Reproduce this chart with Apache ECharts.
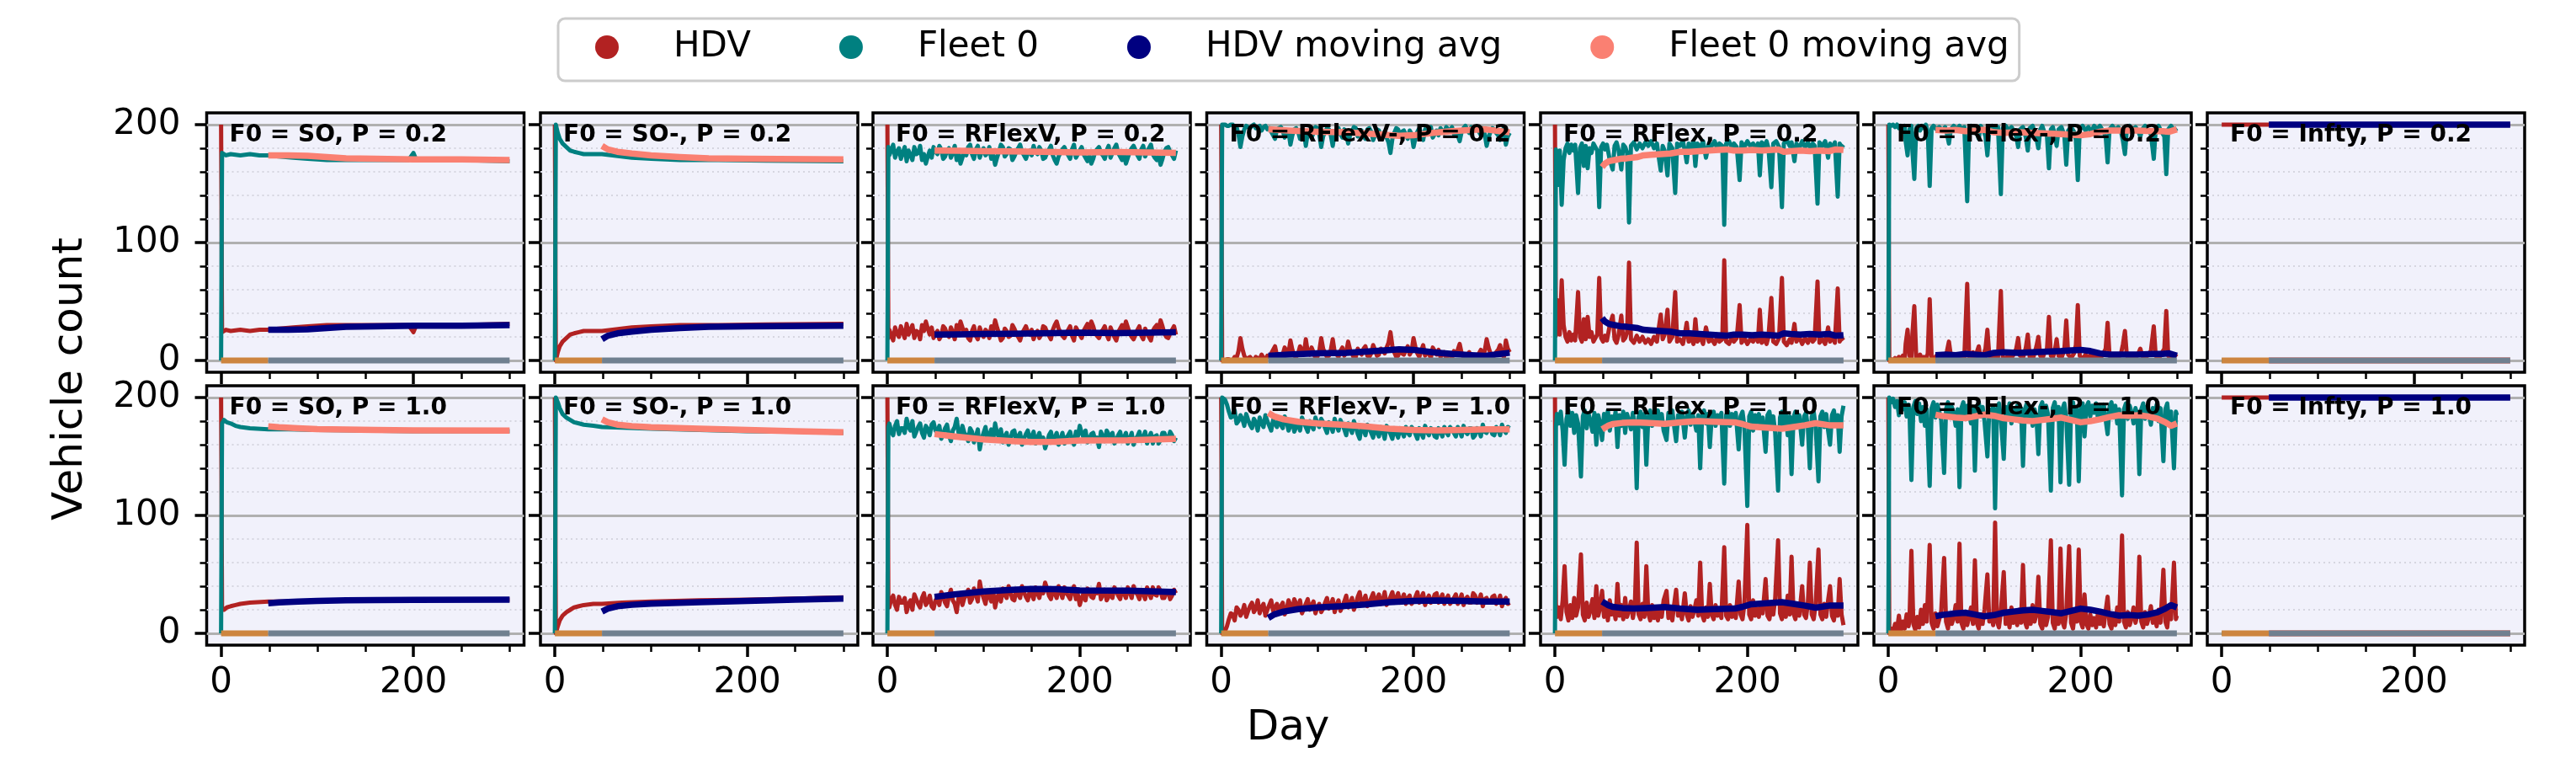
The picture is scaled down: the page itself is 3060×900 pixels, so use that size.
<!DOCTYPE html>
<html>
<head>
<meta charset="utf-8">
<script src="https://cdn.jsdelivr.net/npm/echarts@6/dist/echarts.min.js"></script>
<style>
  html, body { margin: 0; padding: 0; background: #fff; }
  #chart { width: 3060px; height: 900px; }
</style>
</head>
<body>
<div id="chart"></div>
<script>
// ---- data ----
const legendNames = ['HDV', 'Fleet 0', 'HDV moving avg', 'Fleet 0 moving avg'];
const panelTitles = [
  ['F0 = SO, P = 0.2', 'F0 = SO-, P = 0.2', 'F0 = RFlexV, P = 0.2', 'F0 = RFlexV-, P = 0.2', 'F0 = RFlex, P = 0.2', 'F0 = RFlex-, P = 0.2', 'F0 = Infty, P = 0.2'],
  ['F0 = SO, P = 1.0', 'F0 = SO-, P = 1.0', 'F0 = RFlexV, P = 1.0', 'F0 = RFlexV-, P = 1.0', 'F0 = RFlex, P = 1.0', 'F0 = RFlex-, P = 1.0', 'F0 = Infty, P = 1.0']
];
const xTicksMajor = [0, 200];
const xTicksMinor = [50, 100, 150, 250, 300];
const yTicksMajor = [0, 100, 200];
const yTicksMinor = [20, 40, 60, 80, 120, 140, 160, 180];

// phase bars along zero
const learnPhase = [[0, 0], [49, 0]];
const evalPhase = [[49, 0], [300, 0]];

// SO, P = 0.2
const so02Fleet = [[0,0],[1,176],[5,174],[10,175],[20,174],[30,175],[40,174],[49,174],[60,173],[75,172],[90,171],[110,170],[150,170],[195,170],[200,176],[203,170],[250,170],[300,169]];
const so02Hdv = [[0,200],[1,24],[5,26],[10,25],[20,26],[30,25],[40,26],[49,26],[60,27],[75,28],[90,29],[110,30],[150,30],[195,30],[200,24],[203,30],[250,30],[300,31]];
const so02FleetAvg = [[49,174],[70,174],[90,173.5],[110,172.5],[130,171.5],[160,171],[200,170.5],[250,170.5],[300,170]];
const so02HdvAvg = [[49,26],[70,26],[90,26.5],[110,27.5],[130,28.5],[160,29],[200,29.5],[250,29.5],[300,30]];

// SO-, P = 0.2
const soM02Fleet = [[0,0],[1,200],[3,193],[5,188],[8,184],[12,181],[16,178],[20,177],[25,176],[30,175],[40,175],[49,175],[60,174],[80,172],[100,171],[130,170],[170,170],[220,169.5],[300,169]];
const soM02Hdv = [[0,200],[1,0],[3,7],[5,12],[8,16],[12,19],[16,22],[20,23],[25,24],[30,25],[40,25],[49,25],[60,26],[80,28],[100,29],[130,30],[170,30],[220,30.5],[300,31]];
const soM02FleetAvg = [[49,182],[55,179],[65,177],[80,175.5],[100,174],[130,172.5],[160,171.5],[200,171],[300,170.5]];
const soM02HdvAvg = [[49,18],[55,21],[65,23],[80,24.5],[100,26],[130,27.5],[160,28.5],[200,29],[300,29.5]];

// SO, P = 1.0
const so10Fleet = [[0,0],[1,178],[3,181],[6,179],[10,178],[15,176],[20,175],[30,174],[49,173],[70,173],[100,172.5],[150,172],[200,171.5],[300,171.5]];
const so10Hdv = [[0,200],[1,20],[3,20],[6,22],[10,23],[15,24],[20,25],[30,26],[49,27],[70,27],[100,27.5],[150,28],[200,28.5],[300,28.5]];
const so10FleetAvg = [[49,175.5],[60,174.8],[80,174],[100,173.3],[130,172.8],[160,172.5],[200,172.2],[300,172]];
const so10HdvAvg = [[49,25.5],[60,26.2],[80,27],[100,27.5],[130,28],[160,28.2],[200,28.4],[300,28.5]];

// SO-, P = 1.0
const soM10Fleet = [[0,0],[1,200],[3,196],[5,191],[8,186],[12,183],[16,181],[20,179],[25,178],[30,177],[40,176],[49,175],[70,174.5],[100,173.5],[150,172.5],[200,171.5],[250,171],[300,170]];
const soM10Hdv = [[0,200],[1,0],[3,6],[5,11],[8,15],[12,18],[16,20],[20,22],[25,23],[30,24],[40,25],[49,25],[70,26],[100,27],[150,28],[200,28.5],[250,29.5],[300,30.5]];
const soM10FleetAvg = [[49,181.5],[55,179],[65,177],[80,175.8],[100,174.8],[150,173.5],[200,172.5],[250,171.5],[300,170.5]];
const soM10HdvAvg = [[49,18.5],[55,21],[65,23],[80,24.2],[100,25.2],[150,26.5],[200,27.5],[250,28.5],[300,29.5]];

// day grid for the noisy RFlexV panels
const noiseDays = [0,1,2,4,6,8,10,12,14,16,18,20,22,24,26,28,30,32,34,36,38,40,42,44,46,48,50,52,54,56,58,60,62,64,66,68,70,72,74,76,78,80,82,84,86,88,90,92,94,96,98,100,102,104,106,108,110,112,114,116,118,120,122,124,126,128,130,132,134,136,138,140,142,144,146,148,150,152,154,156,158,160,162,164,166,168,170,172,174,176,178,180,182,184,186,188,190,192,194,196,198,200,202,204,206,208,210,212,214,216,218,220,222,224,226,228,230,232,234,236,238,240,242,244,246,248,250,252,254,256,258,260,262,264,266,268,270,272,274,276,278,280,282,284,286,288,290,292,294,296,298,300];

// RFlexV, P = 0.2
const rflexV02Fleet = [0,181,174,178,183,172,177,180,171,176,181,169,178,174,170,181,175,176,182,170,175,167,173,178,172,181,177,175,182,179,171,173,178,180,172,176,182,170,176,167,172,178,174,181,183,175,171,179,182,172,177,180,174,176,181,171,175,166,172,177,183,181,173,175,180,179,170,173,177,180,183,177,174,171,176,178,174,182,177,175,181,178,171,172,176,179,182,174,170,167,173,176,179,181,177,174,171,179,183,172,175,178,181,175,172,169,174,167,171,177,179,181,176,174,171,178,182,172,176,180,183,176,173,170,175,167,172,177,180,182,178,174,171,179,182,173,177,180,183,175,172,170,174,166,171,177,180,181,177,174,171,178];
const rflexV02Hdv = [200,19,26,22,17,28,23,20,29,24,19,31,22,26,30,19,25,24,18,30,25,33,27,22,28,19,23,25,18,21,29,27,22,20,28,24,18,30,24,33,28,22,26,19,17,25,29,21,18,28,23,20,26,24,19,29,25,34,28,23,17,19,27,25,20,21,30,27,23,20,17,23,26,29,24,22,26,18,23,25,19,22,29,28,24,21,18,26,30,33,27,24,21,19,23,26,29,21,17,28,25,22,19,25,28,31,26,33,29,23,21,19,24,26,29,22,18,28,24,20,17,24,27,30,25,33,28,23,20,18,22,26,29,21,18,27,23,20,17,25,28,30,26,34,29,23,20,19,23,26,29,22];
const rflexV02FleetAvg = [[49,178],[75,177.8],[100,177.5],[130,177.3],[160,177],[200,176.5],[240,176.8],[270,176.5],[300,176]];
const rflexV02HdvAvg = [[49,22],[75,22.2],[100,22.5],[130,22.7],[160,23],[200,23.5],[240,23.2],[270,23.5],[300,24]];

// RFlexV-, P = 0.2
const rflexVM02Fleet = [0,200,200,200,199,199,200,200,197,198,192,181,190,196,199,198,197,199,200,197,198,199,195,198,199,196,197,194,191,188,196,197,198,195,189,192,194,183,191,196,197,194,188,191,195,182,193,195,189,193,198,197,192,181,190,194,197,196,191,182,193,195,197,192,189,196,193,184,191,194,198,197,190,193,195,190,188,196,197,194,187,191,196,195,190,192,194,189,185,176,188,193,197,196,190,194,195,191,188,195,192,181,189,194,197,192,187,196,193,194,198,189,192,195,191,197,195,193,198,196,194,198,192,195,191,186,194,197,199,195,193,198,196,196,198,194,191,197,192,182,189,194,197,196,193,191,187,195,197,183,190,193];
const rflexVM02Hdv = [200,0,0,0,1,1,0,0,3,2,8,19,10,4,1,2,3,1,0,3,2,1,5,2,1,4,3,6,9,12,4,3,2,5,11,8,6,17,9,4,3,6,12,9,5,18,7,5,11,7,2,3,8,19,10,6,3,4,9,18,7,5,3,8,11,4,7,16,9,6,2,3,10,7,5,10,12,4,3,6,13,9,4,5,10,8,6,11,15,24,12,7,3,4,10,6,5,9,12,5,8,19,11,6,3,8,13,4,7,6,2,11,8,5,9,3,5,7,2,4,6,2,8,5,9,14,6,3,1,5,7,2,4,4,2,6,9,3,8,18,11,6,3,4,7,9,13,5,3,17,10,7];
const rflexVM02FleetAvg = [[49,196],[70,195],[100,194],[130,193.5],[150,192.5],[170,191.5],[185,190.5],[200,191],[220,193],[240,194.5],[260,195.5],[275,196],[290,194.5],[300,193.5]];
const rflexVM02HdvAvg = [[49,4],[70,5],[100,6],[130,6.5],[150,7.5],[170,8.5],[185,9.5],[200,9],[220,7],[240,5.5],[260,4.5],[275,4],[290,5.5],[300,6.5]];

// RFlexV, P = 1.0
const rflexV10Fleet = [0,175,178,171,168,176,180,169,174,174,170,182,175,172,180,167,171,175,178,170,166,176,173,168,177,179,172,170,176,165,169,174,177,168,163,172,175,182,170,166,176,170,168,163,174,171,162,167,173,156,165,170,175,165,168,173,164,178,170,166,173,162,167,170,160,165,171,172,163,167,170,160,165,169,172,164,167,171,161,166,170,162,166,157,162,168,171,163,166,170,160,165,170,161,166,168,171,164,160,171,167,176,170,166,172,162,165,169,170,164,166,158,171,167,163,172,169,165,170,161,164,168,171,163,166,170,161,165,170,160,165,167,171,163,166,171,161,166,170,161,167,168,161,164,170,170,165,165,171,168,163,166];
const rflexV10Hdv = [200,25,22,29,32,24,20,31,26,26,30,18,25,28,20,33,29,25,22,30,34,24,27,32,23,21,28,30,24,35,31,26,23,32,37,28,25,18,30,34,24,30,32,37,26,29,38,33,27,44,35,30,25,35,32,27,36,22,30,34,27,38,33,30,40,35,29,28,37,33,30,40,35,31,28,36,33,29,39,34,30,38,34,43,38,32,29,37,34,30,40,35,30,39,34,32,29,36,40,29,33,24,30,34,28,38,35,31,30,36,34,42,29,33,37,28,31,35,30,39,36,32,29,37,34,30,39,35,30,40,35,33,29,37,34,29,39,34,30,39,33,32,39,36,30,30,35,35,29,32,37,34];
const rflexV10FleetAvg = [[49,169],[70,167],[100,164.5],[130,163],[150,162.3],[175,162.5],[200,163.5],[250,163.7],[280,164.5],[300,165]];
const rflexV10HdvAvg = [[49,31],[70,33],[100,35.5],[130,37],[150,37.7],[175,37.5],[200,36.5],[250,36.3],[280,35.5],[300,35]];

// RFlexV-, P = 1.0
const rflexVM10Fleet = [0,200,200,198,194,188,183,184,189,178,180,185,182,176,186,181,177,174,182,179,172,183,178,175,185,180,176,172,181,178,175,183,177,174,184,180,172,176,181,171,175,179,172,183,179,175,171,180,176,173,183,178,175,182,179,174,170,179,176,171,182,176,172,181,177,173,168,178,175,170,180,175,169,165,176,173,168,177,174,170,166,174,171,167,175,172,165,176,173,169,165,174,170,166,174,171,167,175,170,168,175,173,169,165,174,170,166,176,171,168,174,172,167,166,174,171,167,175,171,168,175,173,170,167,175,172,167,176,171,169,174,174,166,168,174,172,167,177,171,170,174,174,169,168,175,173,168,177,172,170,175,174];
const rflexVM10Hdv = [200,0,0,2,6,12,17,16,11,22,20,15,18,24,14,19,23,26,18,21,28,17,22,25,15,20,24,28,19,22,25,17,23,26,16,20,28,24,19,29,25,21,28,17,21,25,29,20,24,27,17,22,25,18,21,26,30,21,24,29,18,24,28,19,23,27,32,22,25,30,20,25,31,35,24,27,32,23,26,30,34,26,29,33,25,28,35,24,27,31,35,26,30,34,26,29,33,25,30,32,25,27,31,35,26,30,34,24,29,32,26,28,33,34,26,29,33,25,29,32,25,27,30,33,25,28,33,24,29,31,26,26,34,32,26,28,33,23,29,30,26,26,31,32,25,27,32,23,28,30,25,26];
const rflexVM10FleetAvg = [[49,187],[55,184],[65,181.5],[80,179.5],[100,178],[125,177],[150,175.5],[175,173.5],[200,172.5],[225,172.2],[250,172.5],[275,173],[300,173]];
const rflexVM10HdvAvg = [[49,13],[55,16],[65,18.5],[80,20.5],[100,22],[125,23],[150,24.5],[175,26.5],[200,27.5],[225,27.8],[250,27.5],[275,27],[300,27]];

// RFlex, P = 0.2
const rflex02Fleet = [[0,0],[1,179],[2,160],[3,149],[4,172],[5,178],[7,132],[9,170],[11,180],[13,184],[15,176],[17,183],[19,178],[21,183],[24,142],[26,180],[28,184],[30,165],[32,182],[34,163],[36,180],[38,176],[40,184],[42,181],[44,178],[46,130],[48,181],[50,184],[52,179],[54,183],[57,170],[60,162],[62,182],[64,185],[66,179],[69,162],[71,183],[73,181],[75,176],[77,117],[79,182],[82,185],[85,179],[88,184],[91,180],[94,185],[97,182],[100,186],[103,180],[106,184],[108,172],[110,161],[112,182],[114,178],[117,157],[119,184],[122,180],[125,142],[127,184],[130,182],[133,186],[135,178],[137,168],[139,184],[142,181],[144,186],[146,165],[148,184],[151,180],[154,186],[157,172],[160,184],[163,182],[166,186],[169,179],[171,184],[174,182],[176,115],[178,184],[181,186],[184,180],[186,184],[189,181],[192,153],[194,185],[197,181],[200,186],[203,182],[206,184],[209,179],[211,184],[213,157],[215,185],[218,182],[220,186],[222,180],[225,147],[227,184],[230,186],[233,181],[236,130],[238,184],[241,187],[244,182],[246,185],[249,169],[251,184],[254,180],[257,186],[260,181],[263,185],[266,179],[268,184],[270,182],[273,133],[275,185],[278,182],[281,186],[284,172],[286,184],[289,180],[291,185],[294,139],[296,184],[298,181],[300,183]];
const rflex02Hdv = [[0,200],[1,21],[2,40],[3,51],[4,28],[5,22],[7,68],[9,30],[11,20],[13,16],[15,24],[17,17],[19,22],[21,17],[24,58],[26,20],[28,16],[30,35],[32,18],[34,37],[36,20],[38,24],[40,16],[42,19],[44,22],[46,70],[48,19],[50,16],[52,21],[54,17],[57,30],[60,38],[62,18],[64,15],[66,21],[69,38],[71,17],[73,19],[75,24],[77,83],[79,18],[82,15],[85,21],[88,16],[91,20],[94,15],[97,18],[100,14],[103,20],[106,16],[108,28],[110,39],[112,18],[114,22],[117,43],[119,16],[122,20],[125,58],[127,16],[130,18],[133,14],[135,22],[137,32],[139,16],[142,19],[144,14],[146,35],[148,16],[151,20],[154,14],[157,28],[160,16],[163,18],[166,14],[169,21],[171,16],[174,18],[176,85],[178,16],[181,14],[184,20],[186,16],[189,19],[192,47],[194,15],[197,19],[200,14],[203,18],[206,16],[209,21],[211,16],[213,43],[215,15],[218,18],[220,14],[222,20],[225,53],[227,16],[230,14],[233,19],[236,70],[238,16],[241,13],[244,18],[246,15],[249,31],[251,16],[254,20],[257,14],[260,19],[263,15],[266,21],[268,16],[270,18],[273,67],[275,15],[278,18],[281,14],[284,28],[286,16],[289,20],[291,15],[294,61],[296,16],[298,19],[300,17]];
const rflex02FleetAvg = [[49,164],[52,167],[56,169],[62,170],[68,171],[75,171.5],[80,172],[86,172.5],[92,174],[100,174.5],[110,175],[120,175.5],[130,177],[140,177],[150,177.5],[160,178],[170,178.5],[178,179],[186,178],[195,178],[205,178.5],[215,178],[225,178.5],[232,179],[238,177],[245,177.5],[255,178],[265,177.5],[275,178],[285,177.5],[292,179],[300,178.5]];
const rflex02HdvAvg = [[49,36],[52,33],[56,31],[62,30],[68,29],[75,28.5],[80,28],[86,27.5],[92,26],[100,25.5],[110,25],[120,24.5],[130,23],[140,23],[150,22.5],[160,22],[170,21.5],[178,21],[186,22],[195,22],[205,21.5],[215,22],[225,21.5],[232,21],[238,23],[245,22.5],[255,22],[265,22.5],[275,22],[285,22.5],[292,21],[300,21.5]];

// RFlex-, P = 0.2
const rflexM02Fleet = [[0,0],[1,200],[3,199],[5,200],[7,198],[9,200],[11,197],[13,199],[15,196],[17,199],[18,186],[20,174],[22,196],[24,199],[25,178],[27,154],[29,197],[31,199],[33,195],[35,199],[37,197],[39,200],[41,194],[43,148],[45,197],[47,199],[50,196],[53,198],[56,195],[59,198],[61,192],[63,184],[65,196],[68,199],[71,196],[74,199],[77,195],[79,198],[82,135],[84,197],[86,199],[88,193],[90,198],[94,188],[96,199],[99,195],[101,190],[103,174],[105,196],[108,199],[111,195],[114,198],[117,141],[119,197],[122,199],[125,195],[128,198],[131,194],[133,190],[135,181],[137,196],[140,198],[143,189],[145,178],[147,197],[150,199],[152,194],[154,188],[156,180],[158,196],[160,199],[162,194],[165,190],[167,163],[169,196],[171,198],[173,192],[175,182],[177,196],[180,198],[183,191],[185,166],[187,195],[190,198],[193,194],[195,187],[197,153],[199,196],[202,199],[205,195],[208,198],[211,194],[214,199],[217,196],[220,199],[223,195],[226,190],[228,168],[230,196],[233,199],[236,195],[239,198],[242,194],[244,186],[246,175],[248,196],[251,199],[254,195],[257,198],[260,194],[262,190],[264,196],[267,199],[270,195],[273,192],[276,171],[278,196],[281,199],[284,194],[287,190],[289,158],[291,196],[294,199],[297,195],[300,197]];
const rflexM02Hdv = [[0,200],[1,0],[3,1],[5,0],[7,2],[9,0],[11,3],[13,1],[15,4],[17,1],[18,14],[20,26],[22,4],[24,1],[25,22],[27,46],[29,3],[31,1],[33,5],[35,1],[37,3],[39,0],[41,6],[43,52],[45,3],[47,1],[50,4],[53,2],[56,5],[59,2],[61,8],[63,16],[65,4],[68,1],[71,4],[74,1],[77,5],[79,2],[82,65],[84,3],[86,1],[88,7],[90,2],[94,12],[96,1],[99,5],[101,10],[103,26],[105,4],[108,1],[111,5],[114,2],[117,59],[119,3],[122,1],[125,5],[128,2],[131,6],[133,10],[135,19],[137,4],[140,2],[143,11],[145,22],[147,3],[150,1],[152,6],[154,12],[156,20],[158,4],[160,1],[162,6],[165,10],[167,37],[169,4],[171,2],[173,8],[175,18],[177,4],[180,2],[183,9],[185,34],[187,5],[190,2],[193,6],[195,13],[197,47],[199,4],[202,1],[205,5],[208,2],[211,6],[214,1],[217,4],[220,1],[223,5],[226,10],[228,32],[230,4],[233,1],[236,5],[239,2],[242,6],[244,14],[246,25],[248,4],[251,1],[254,5],[257,2],[260,6],[262,10],[264,4],[267,1],[270,5],[273,8],[276,29],[278,4],[281,1],[284,6],[287,10],[289,42],[291,4],[294,1],[297,5],[300,3]];
const rflexM02FleetAvg = [[49,195.5],[60,195],[70,195.5],[80,194.5],[90,195],[100,195.7],[110,193.5],[120,193],[135,193.5],[150,193],[165,192.5],[180,192],[190,191.4],[200,191],[210,192],[220,194],[230,195],[245,195],[260,195],[275,194.5],[285,194.5],[292,194],[300,196]];
const rflexM02HdvAvg = [[49,4.5],[60,5],[70,4.5],[80,5.5],[90,5],[100,4.3],[110,6.5],[120,7],[135,6.5],[150,7],[165,7.5],[180,8],[190,8.6],[200,9],[210,8],[220,6],[230,5],[245,5],[260,5],[275,5.5],[285,5.5],[292,6],[300,4]];

// RFlex, P = 1.0
const rflex10Fleet = [[0,0],[1,175],[2,186],[4,178],[6,188],[8,172],[10,143],[12,182],[14,189],[16,176],[18,187],[20,170],[22,185],[24,178],[27,133],[29,184],[31,189],[33,174],[35,186],[37,180],[39,171],[41,187],[43,160],[45,185],[47,178],[49,164],[51,186],[53,176],[55,189],[57,172],[59,184],[61,178],[63,188],[65,158],[67,185],[69,176],[71,188],[73,170],[75,186],[77,180],[79,173],[81,187],[83,178],[85,123],[87,184],[89,188],[91,175],[93,186],[95,143],[97,183],[99,189],[101,176],[103,187],[105,181],[107,189],[109,178],[111,186],[113,172],[116,164],[118,187],[120,180],[122,189],[124,175],[126,163],[128,185],[130,179],[132,188],[135,166],[137,184],[139,189],[141,177],[143,186],[145,180],[147,172],[149,185],[151,140],[153,184],[155,189],[157,178],[159,186],[161,158],[163,184],[165,188],[167,176],[169,185],[171,180],[173,187],[176,127],[178,185],[180,188],[182,176],[184,186],[186,180],[188,187],[191,156],[193,184],[195,188],[197,175],[200,108],[202,184],[204,188],[206,172],[208,185],[210,179],[212,186],[214,174],[216,183],[219,154],[221,185],[223,188],[225,176],[227,184],[229,170],[232,121],[234,183],[236,188],[238,175],[240,186],[242,168],[244,184],[246,135],[248,183],[250,188],[252,176],[254,185],[257,160],[259,184],[261,187],[263,174],[265,140],[267,184],[269,188],[271,176],[274,129],[276,184],[278,188],[280,175],[282,186],[284,172],[286,160],[288,185],[290,189],[292,177],[294,185],[296,154],[298,184],[300,193]];
const rflex10Hdv = [[0,200],[1,25],[2,14],[4,22],[6,12],[8,28],[10,57],[12,18],[14,11],[16,24],[18,13],[20,30],[22,15],[24,22],[27,67],[29,16],[31,11],[33,26],[35,14],[37,20],[39,29],[41,13],[43,40],[45,15],[47,22],[49,36],[51,14],[53,24],[55,11],[57,28],[59,16],[61,22],[63,12],[65,42],[67,15],[69,24],[71,12],[73,30],[75,14],[77,20],[79,27],[81,13],[83,22],[85,77],[87,16],[89,12],[91,25],[93,14],[95,57],[97,17],[99,11],[101,24],[103,13],[105,19],[107,11],[109,22],[111,14],[113,28],[116,36],[118,13],[120,20],[122,11],[124,25],[126,37],[128,15],[130,21],[132,12],[135,34],[137,16],[139,11],[141,23],[143,14],[145,20],[147,28],[149,15],[151,60],[153,16],[155,11],[157,22],[159,14],[161,42],[163,16],[165,12],[167,24],[169,15],[171,20],[173,13],[176,73],[178,15],[180,12],[182,24],[184,14],[186,20],[188,13],[191,44],[193,16],[195,12],[197,25],[200,92],[202,16],[204,12],[206,28],[208,15],[210,21],[212,14],[214,26],[216,17],[219,46],[221,15],[223,12],[225,24],[227,16],[229,30],[232,79],[234,17],[236,12],[238,25],[240,14],[242,32],[244,16],[246,65],[248,17],[250,12],[252,24],[254,15],[257,40],[259,16],[261,13],[263,26],[265,60],[267,16],[269,12],[271,24],[274,71],[276,16],[278,12],[280,25],[282,14],[284,28],[286,40],[288,15],[290,11],[292,23],[294,15],[296,46],[298,16],[300,7]];
const rflex10FleetAvg = [[49,173],[55,176],[60,177.5],[70,178.5],[82,179],[95,178.5],[114,177.7],[130,179],[148,180],[165,179.5],[187,179],[195,177.5],[204,175.3],[220,174.5],[236,173.6],[248,175],[260,176.5],[271,178.2],[285,176.5],[300,176.5]];
const rflex10HdvAvg = [[49,27],[55,24],[60,22.5],[70,21.5],[82,21],[95,21.5],[114,22.3],[130,21],[148,20],[165,20.5],[187,21],[195,22.5],[204,24.7],[220,25.5],[236,26.4],[248,25],[260,23.5],[271,21.8],[285,23.5],[300,23.5]];

// RFlex-, P = 1.0
const rflexM10Fleet = [[0,0],[1,200],[3,196],[5,199],[7,192],[9,197],[11,185],[13,198],[15,190],[17,196],[19,184],[21,194],[22,188],[24,130],[26,192],[28,197],[30,186],[32,195],[34,180],[36,192],[38,176],[40,190],[43,125],[45,191],[47,196],[49,183],[51,194],[53,188],[55,181],[58,136],[60,190],[62,196],[64,183],[66,192],[68,187],[70,176],[72,190],[74,124],[76,191],[78,196],[80,182],[82,193],[84,186],[86,178],[88,192],[90,138],[92,191],[94,196],[96,184],[98,192],[100,180],[103,150],[105,190],[107,184],[109,193],[111,106],[113,190],[115,195],[117,182],[120,148],[122,192],[124,184],[126,195],[128,178],[130,191],[132,185],[134,193],[136,180],[138,191],[140,142],[142,190],[144,195],[146,182],[148,192],[150,176],[152,190],[154,184],[156,152],[158,192],[160,196],[162,183],[164,193],[166,186],[169,121],[171,191],[173,196],[175,184],[177,192],[179,128],[181,190],[183,195],[185,183],[188,126],[190,191],[192,196],[194,182],[196,190],[198,129],[200,190],[202,195],[204,167],[206,192],[208,196],[210,184],[212,193],[214,187],[216,195],[218,182],[220,192],[222,186],[224,194],[226,181],[228,169],[230,192],[232,196],[234,183],[236,193],[238,178],[240,190],[243,117],[245,190],[247,195],[249,182],[251,193],[253,187],[255,178],[257,191],[259,184],[261,135],[263,190],[265,195],[267,182],[269,192],[271,186],[273,177],[275,191],[277,185],[279,194],[281,180],[283,191],[286,146],[288,190],[290,195],[292,178],[294,188],[297,140],[299,188],[300,185]];
const rflexM10Hdv = [[0,200],[1,0],[3,4],[5,1],[7,8],[9,3],[11,15],[13,2],[15,10],[17,4],[19,16],[21,6],[22,12],[24,70],[26,8],[28,3],[30,14],[32,5],[34,20],[36,8],[38,24],[40,10],[43,75],[45,9],[47,4],[49,17],[51,6],[53,12],[55,19],[58,64],[60,10],[62,4],[64,17],[66,8],[68,13],[70,24],[72,10],[74,76],[76,9],[78,4],[80,18],[82,7],[84,14],[86,22],[88,8],[90,62],[92,9],[94,4],[96,16],[98,8],[100,20],[103,50],[105,10],[107,16],[109,7],[111,94],[113,10],[115,5],[117,18],[120,52],[122,8],[124,16],[126,5],[128,22],[130,9],[132,15],[134,7],[136,20],[138,9],[140,58],[142,10],[144,5],[146,18],[148,8],[150,24],[152,10],[154,16],[156,48],[158,8],[160,4],[162,17],[164,7],[166,14],[169,79],[171,9],[173,4],[175,16],[177,8],[179,72],[181,10],[183,5],[185,17],[188,74],[190,9],[192,4],[194,18],[196,10],[198,71],[200,10],[202,5],[204,33],[206,8],[208,4],[210,16],[212,7],[214,13],[216,5],[218,18],[220,8],[222,14],[224,6],[226,19],[228,31],[230,8],[232,4],[234,17],[236,7],[238,22],[240,10],[243,83],[245,10],[247,5],[249,18],[251,7],[253,13],[255,22],[257,9],[259,16],[261,65],[263,10],[265,5],[267,18],[269,8],[271,14],[273,23],[275,9],[277,15],[279,6],[281,20],[283,9],[286,54],[288,10],[290,5],[292,22],[294,12],[297,60],[299,12],[300,15]];
const rflexM10FleetAvg = [[49,185.5],[55,184.5],[60,184],[70,183],[80,182.5],[90,184],[100,185.6],[110,184.5],[120,182.5],[130,181.5],[140,180.5],[150,180],[160,181],[170,182],[180,183],[190,181],[200,179],[210,180],[220,181.5],[230,183.5],[240,185],[250,184.5],[260,185],[270,184],[280,182],[288,179],[294,176],[300,178]];
const rflexM10HdvAvg = [[49,14.5],[55,15.5],[60,16],[70,17],[80,17.5],[90,16],[100,14.4],[110,15.5],[120,17.5],[130,18.5],[140,19.5],[150,20],[160,19],[170,18],[180,17],[190,19],[200,21],[210,20],[220,18.5],[230,16.5],[240,15],[250,15.5],[260,15],[270,16],[280,18],[288,21],[294,24],[300,22]];

// Infty (both P)
const infty02Fleet = [[0,0],[300,0]];
const infty02Hdv = [[0,200],[300,200]];
const infty02FleetAvg = [[49,0],[300,0]];
const infty02HdvAvg = [[49,200],[300,200]];
const infty10Fleet = [[0,0],[300,0]];
const infty10Hdv = [[0,200],[300,200]];
const infty10FleetAvg = [[49,0],[300,0]];
const infty10HdvAvg = [[49,200],[300,200]];

// ---- build ----
const pairs = (days, vals) => vals.map((v, i) => [days[i], v]);

const panels = [
  [
    { fleet: so02Fleet, hdv: so02Hdv, fleetAvg: so02FleetAvg, hdvAvg: so02HdvAvg },
    { fleet: soM02Fleet, hdv: soM02Hdv, fleetAvg: soM02FleetAvg, hdvAvg: soM02HdvAvg },
    { fleet: pairs(noiseDays, rflexV02Fleet), hdv: pairs(noiseDays, rflexV02Hdv), fleetAvg: rflexV02FleetAvg, hdvAvg: rflexV02HdvAvg },
    { fleet: pairs(noiseDays, rflexVM02Fleet), hdv: pairs(noiseDays, rflexVM02Hdv), fleetAvg: rflexVM02FleetAvg, hdvAvg: rflexVM02HdvAvg },
    { fleet: rflex02Fleet, hdv: rflex02Hdv, fleetAvg: rflex02FleetAvg, hdvAvg: rflex02HdvAvg },
    { fleet: rflexM02Fleet, hdv: rflexM02Hdv, fleetAvg: rflexM02FleetAvg, hdvAvg: rflexM02HdvAvg },
    { fleet: infty02Fleet, hdv: infty02Hdv, fleetAvg: infty02FleetAvg, hdvAvg: infty02HdvAvg }
  ],
  [
    { fleet: so10Fleet, hdv: so10Hdv, fleetAvg: so10FleetAvg, hdvAvg: so10HdvAvg },
    { fleet: soM10Fleet, hdv: soM10Hdv, fleetAvg: soM10FleetAvg, hdvAvg: soM10HdvAvg },
    { fleet: pairs(noiseDays, rflexV10Fleet), hdv: pairs(noiseDays, rflexV10Hdv), fleetAvg: rflexV10FleetAvg, hdvAvg: rflexV10HdvAvg },
    { fleet: pairs(noiseDays, rflexVM10Fleet), hdv: pairs(noiseDays, rflexVM10Hdv), fleetAvg: rflexVM10FleetAvg, hdvAvg: rflexVM10HdvAvg },
    { fleet: rflex10Fleet, hdv: rflex10Hdv, fleetAvg: rflex10FleetAvg, hdvAvg: rflex10HdvAvg },
    { fleet: rflexM10Fleet, hdv: rflexM10Hdv, fleetAvg: rflexM10FleetAvg, hdvAvg: rflexM10HdvAvg },
    { fleet: infty10Fleet, hdv: infty10Hdv, fleetAvg: infty10FleetAvg, hdvAvg: infty10HdvAvg }
  ]
];

const FONT = 'DejaVu Sans';
const colLeft = [245.5, 642, 1037, 1433.5, 1830, 2226, 2622];
const rowTop = [134, 458];
const PW = 377, PH = 308;

const grid = [], xAxis = [], yAxis = [], series = [], title = [];

function line(name, data, color, width, g, z) {
  return {
    name, type: 'line', data, xAxisIndex: 2 * g, yAxisIndex: 2 * g,
    symbol: 'none', showSymbol: false, color, z, silent: true,
    lineStyle: { color, width, join: 'round' },
    emphasis: { disabled: true }
  };
}

// axes sit on the panel edges, not on the zero of the other axis
const edgeLine = { show: false, onZero: false };

panels.forEach((row, r) => row.forEach((p, c) => {
  const g = grid.length;
  grid.push({
    left: colLeft[c], top: rowTop[r], width: PW, height: PH,
    show: true, backgroundColor: '#f1f1fb', borderColor: '#000', borderWidth: 3.5
  });
  // major + minor x axes, both at the bottom
  xAxis.push({
    type: 'value', gridIndex: g, position: 'bottom', min: -15, max: 315,
    axisLine: edgeLine, splitLine: { show: false },
    axisTick: { show: true, customValues: xTicksMajor, length: 14, lineStyle: { color: '#000', width: 3.5 } },
    axisLabel: { show: r === 1, customValues: xTicksMajor, fontSize: 42, color: '#000', fontFamily: FONT, margin: 24 }
  });
  xAxis.push({
    type: 'value', gridIndex: g, position: 'bottom', min: -15, max: 315,
    axisLine: edgeLine, splitLine: { show: false },
    axisTick: { show: true, customValues: xTicksMinor, length: 8, lineStyle: { color: '#000', width: 2.5 } },
    axisLabel: { show: false }
  });
  // major + minor y axes, both on the left
  yAxis.push({
    type: 'value', gridIndex: g, position: 'left', min: -10, max: 210,
    axisLine: edgeLine,
    splitLine: { show: true, lineStyle: { color: '#b0b0b0', width: 3 } },
    axisTick: { show: true, customValues: yTicksMajor, length: 14, lineStyle: { color: '#000', width: 3.5 } },
    axisLabel: { show: c === 0, customValues: yTicksMajor, fontSize: 42, color: '#000', fontFamily: FONT, margin: 31 }
  });
  yAxis.push({
    type: 'value', gridIndex: g, position: 'left', min: -10, max: 210,
    axisLine: edgeLine,
    splitLine: { show: true, lineStyle: { color: '#d6d6e0', width: 2, type: [2, 4] } },
    axisTick: { show: true, customValues: yTicksMinor, length: 8, lineStyle: { color: '#000', width: 2.5 } },
    axisLabel: { show: false }
  });

  series.push(line('HDV', p.hdv, '#b22222', 5, g, 2));
  series.push(line('Fleet 0', p.fleet, '#008080', 5, g, 3));
  series.push(line('HDV moving avg', p.hdvAvg, '#000080', 7.5, g, 4));
  series.push(line('Fleet 0 moving avg', p.fleetAvg, '#fa8072', 7.5, g, 4));
  series.push(line('learn', learnPhase, '#cd853f', 7, g, 5));
  series.push(line('eval', evalPhase, '#708090', 7, g, 5));

  title.push({
    text: panelTitles[r][c], left: colLeft[c] + 27, top: rowTop[r] + 13, padding: 0,
    textStyle: { fontSize: 28, fontWeight: 'bold', fontFamily: FONT, color: '#000' }
  });
}));

const chart = echarts.init(document.getElementById('chart'));
chart.setOption({
  animation: false,
  backgroundColor: '#fff',
  title,
  grid, xAxis, yAxis, series,
  legend: {
    data: legendNames, left: 663, top: 22, icon: 'circle',
    itemWidth: 28, itemHeight: 28, itemGap: 105, selectedMode: false,
    padding: [10, 12, 16, 44],
    borderColor: '#cccccc', borderWidth: 3, borderRadius: 8, backgroundColor: '#fff',
    textStyle: { fontSize: 42, fontFamily: FONT, color: '#000', lineHeight: 48, padding: [0, 0, 0, 60] }
  },
  graphic: [
    { type: 'text', x: 84, y: 450, rotation: Math.PI / 2,
      style: { text: 'Vehicle count', fontSize: 50, fontFamily: FONT, fill: '#000', align: 'center', verticalAlign: 'middle' } },
    { type: 'text', x: 1530, y: 865,
      style: { text: 'Day', fontSize: 50, fontFamily: FONT, fill: '#000', align: 'center', verticalAlign: 'middle' } }
  ]
});
</script>
</body>
</html>
